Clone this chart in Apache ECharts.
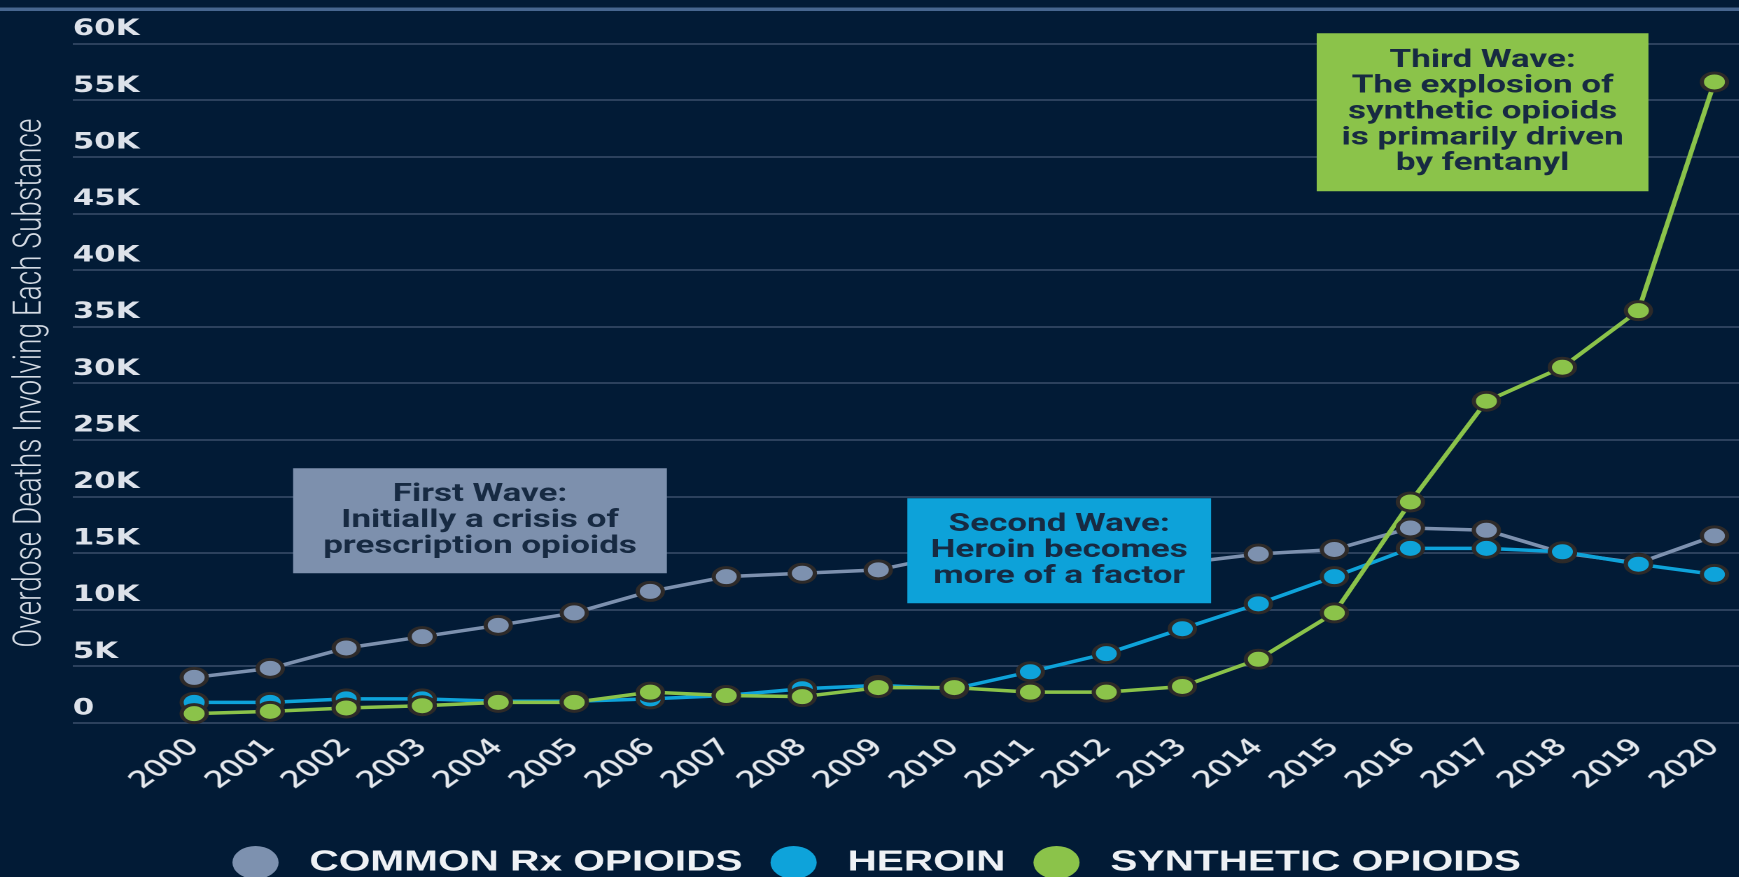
<!DOCTYPE html>
<html>
<head>
<meta charset="utf-8">
<title>Overdose Deaths Involving Each Substance</title>
<script src="https://cdn.jsdelivr.net/npm/echarts@6/dist/echarts.min.js"></script>
<style>
  html, body { margin: 0; padding: 0; background: #021b36; overflow: hidden; }
  #wrap { width: 1739px; height: 877px; overflow: hidden; background: #021b36; }
  /* the chart is laid out on a narrower canvas and widened to the page */
  #chart { width: 1242px; height: 877px; transform: scaleX(1.4); transform-origin: 0 0; }
</style>
</head>
<body>
<div id="wrap"><div id="chart"></div></div>
<script>
// Years on the horizontal axis
const years = [2000, 2001, 2002, 2003, 2004, 2005, 2006, 2007, 2008, 2009, 2010,
               2011, 2012, 2013, 2014, 2015, 2016, 2017, 2018, 2019, 2020];

// Overdose deaths involving each substance
const rxOpioids = [4000, 4800, 6600, 7600, 8600, 9700, 11600, 12900, 13200, 13500, 14900,
                   15100, 14200, 14100, 14900, 15300, 17200, 17000, 15000, 14100, 16500];
const heroin = [1800, 1800, 2100, 2100, 1900, 1900, 2100, 2400, 3000, 3300, 3000,
                4500, 6100, 8300, 10500, 12900, 15400, 15400, 15100, 14000, 13100];
const syntheticOpioids = [800, 1000, 1300, 1500, 1800, 1800, 2700, 2400, 2300, 3100, 3100,
                          2700, 2700, 3200, 5600, 9700, 19500, 28400, 31400, 36400, 56600];

// Value axis range and step
const yMin = 0;
const yMax = 60000;
const yStep = 5000;

const seriesNames = ['COMMON Rx OPIOIDS', 'HEROIN', 'SYNTHETIC OPIOIDS'];
const seriesColors = ['#7d91af', '#0ea3da', '#8bc34a'];

const chart = echarts.init(document.getElementById('chart'), null, { renderer: 'canvas', devicePixelRatio: 2 });

const gridTop = 43.5;
const gridBottom = 154.3;

function waveBox(coord, size, fill, text) {
  return {
    coord: coord,
    symbol: 'rect',
    symbolSize: size,
    itemStyle: { color: fill, borderWidth: 0 },
    label: {
      show: true,
      position: 'inside',
      formatter: text,
      color: '#172a42',
      fontFamily: 'Roboto',
      fontWeight: 'bold',
      fontSize: 25,
      lineHeight: 25.8,
      align: 'center',
      verticalAlign: 'middle'
    }
  };
}

function lineSeries(name, values, color, boxes) {
  return {
    name: name,
    type: 'line',
    xAxisIndex: 1,
    yAxisIndex: 1,
    data: years.map((y, i) => [y, values[i]]),
    symbol: 'circle',
    symbolSize: 18,
    showAllSymbol: true,
    lineStyle: { color: color, width: 3.5 },
    itemStyle: { color: color, borderColor: '#2d2a29', borderWidth: 3 },
    emphasis: { disabled: true },
    markPoint: boxes ? { z: 10, silent: true, data: boxes } : undefined
  };
}

const valueAxisBase = {
  type: 'value',
  min: yMin,
  max: yMax,
  interval: yStep
};

const option = {
  backgroundColor: '#021b36',
  animation: false,
  graphic: [{
    type: 'rect',
    left: 0,
    top: 7.5,
    shape: { width: 1242, height: 3.5 },
    style: { fill: '#47668f' },
    silent: true
  }],
  grid: [
    { left: 52, right: 0, top: gridTop, bottom: gridBottom },
    { left: 138.7, right: 17.4, top: gridTop, bottom: gridBottom }
  ],
  xAxis: [
    { type: 'value', gridIndex: 0, min: 0, max: 1, show: false },
    {
      type: 'value',
      gridIndex: 1,
      min: years[0],
      max: years[years.length - 1],
      interval: 1,
      axisLine: { show: false },
      axisTick: { show: false },
      splitLine: { show: false },
      axisLabel: {
        rotate: 45,
        margin: 21,
        formatter: v => String(v),
        color: '#e6e9ee',
        fontFamily: 'DejaVu Sans',
        fontWeight: 'normal',
        fontSize: 23,
        textBorderColor: 'rgba(230,233,238,0.55)',
        textBorderWidth: 0.8
      }
    }
  ],
  yAxis: [
    Object.assign({}, valueAxisBase, {
      gridIndex: 0,
      name: 'Overdose Deaths Involving Each Substance',
      nameLocation: 'middle',
      nameGap: 16,
      nameTextStyle: {
        fontFamily: 'Roboto',
        fontWeight: 300,
        fontSize: 28,
        color: '#d6dce5'
      },
      axisLine: { show: false },
      axisTick: { show: false },
      splitLine: { show: true, lineStyle: { color: '#3a4f6b', width: 1.6 } },
      axisLabel: {
        inside: true,
        margin: 0,
        align: 'left',
        verticalAlign: 'bottom',
        padding: [0, 0, 3, 0],
        color: '#dde2ea',
        fontFamily: 'DejaVu Sans',
        fontWeight: 'bold',
        fontSize: 22,
        formatter: v => (v === 0 ? '0' : (v / 1000) + 'K')
      }
    }),
    Object.assign({}, valueAxisBase, { gridIndex: 1, show: false })
  ],
  legend: {
    left: 166,
    top: 846,
    padding: 0,
    itemWidth: 33,
    itemHeight: 33,
    itemGap: 20,
    icon: 'circle',
    itemStyle: { borderWidth: 0 },
    data: seriesNames,
    selectedMode: false,
    textStyle: {
      color: '#eef1f5',
      fontFamily: 'Liberation Sans',
      fontWeight: 'bold',
      fontSize: 29,
      padding: [0, 0, 0, 17]
    }
  },
  series: [
    lineSeries(seriesNames[0], rxOpioids, seriesColors[0], [
      waveBox([2003.76, 17840], [267, 105], '#7d90ad',
        'First Wave:\nInitially a crisis of\nprescription opioids')
    ]),
    lineSeries(seriesNames[1], heroin, seriesColors[1], [
      waveBox([2011.38, 15190], [217, 105], '#0da2d9',
        'Second Wave:\nHeroin becomes\nmore of a factor')
    ]),
    lineSeries(seriesNames[2], syntheticOpioids, seriesColors[2], [
      waveBox([2016.95, 53930], [237, 158], '#8bc34a',
        'Third Wave:\nThe explosion of\nsynthetic opioids\nis primarily driven\nby fentanyl')
    ])
  ]
};

chart.setOption(option);
</script>
</body>
</html>
